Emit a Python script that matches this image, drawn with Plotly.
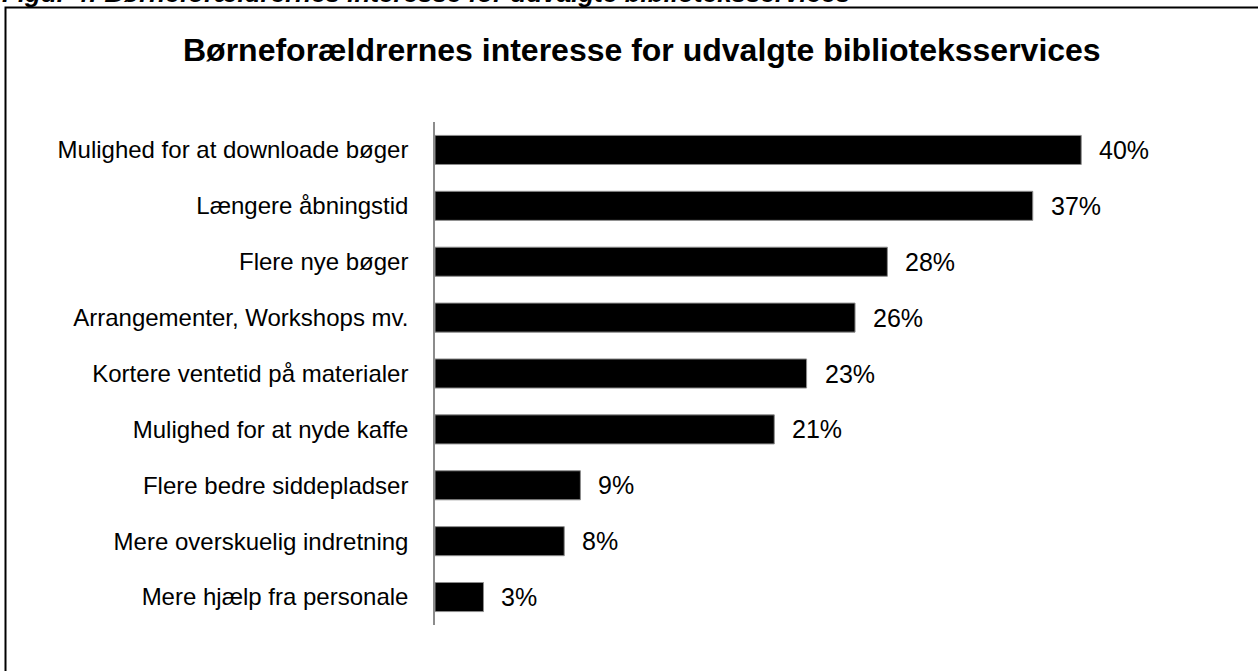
import plotly.graph_objects as go

# Share of parents with children interested in each library service (%)
services = [
    "Mulighed for at downloade bøger",
    "Længere åbningstid",
    "Flere nye bøger",
    "Arrangementer, Workshops mv.",
    "Kortere ventetid på materialer",
    "Mulighed for at nyde kaffe",
    "Flere bedre siddepladser",
    "Mere overskuelig indretning",
    "Mere hjælp fra personale",
]
shares = [40, 37, 28, 26, 23, 21, 9, 8, 3]

title_text = "Børneforældrernes interesse for udvalgte biblioteksservices"
caption_text = "Figur 4: Børneforældrernes interesse for udvalgte biblioteksservices"

W, H = 1258, 671
L, R, T, B = 435, 96, 122, 46
plot_w = W - L - R
plot_h = H - T - B
FONT = "Liberation Sans, Arial"

fig = go.Figure(
    go.Bar(
        x=shares,
        y=services,
        orientation="h",
        marker=dict(color="black", line=dict(color="#8c8c8c", width=1)),
        width=0.52,
        hoverinfo="skip",
    )
)

# value labels to the right of each bar
for s, v in zip(services, shares):
    fig.add_annotation(
        x=v, y=s, xref="x", yref="y",
        text=f"{v}%", showarrow=False,
        xanchor="left", yanchor="middle", xshift=16,
        font=dict(family=FONT, size=25, color="black"),
    )

# chart title
fig.add_annotation(
    x=(642 - L) / plot_w, y=(H - B - 50) / plot_h, xref="paper", yref="paper",
    text=f"<b>{title_text}</b>", showarrow=False,
    xanchor="center", yanchor="middle",
    font=dict(family=FONT, size=32, color="black"),
)

# figure caption above the frame
fig.add_annotation(
    x=(0 - L) / plot_w, y=(H - B - 10.5) / plot_h, xref="paper", yref="paper",
    text=f"<b><i>{caption_text}</i></b>", showarrow=False,
    xanchor="left", yanchor="bottom",
    font=dict(family=FONT, size=26, color="black"),
)

# frame around the chart
fig.add_shape(
    type="rect", xref="paper", yref="paper",
    x0=(5.5 - L) / plot_w, x1=1.3,
    y0=-0.3, y1=(H - B - 7.5) / plot_h,
    line=dict(color="black", width=2),
    fillcolor="rgba(0,0,0,0)",
)

fig.update_layout(
    width=W, height=H,
    margin=dict(l=L, r=R, t=T, b=B, pad=0),
    paper_bgcolor="white",
    plot_bgcolor="white",
    showlegend=False,
    bargap=0.48,
    xaxis=dict(range=[0, 45], visible=False, fixedrange=True),
    yaxis=dict(
        autorange="reversed",
        showline=True, linecolor="#8c8c8c", linewidth=1.5,
        ticks="", showgrid=False, zeroline=False,
        ticklabelstandoff=20,
        tickfont=dict(family=FONT, size=24, color="black"),
    ),
)

fig.write_html("out.html", config={"displayModeBar": False})
